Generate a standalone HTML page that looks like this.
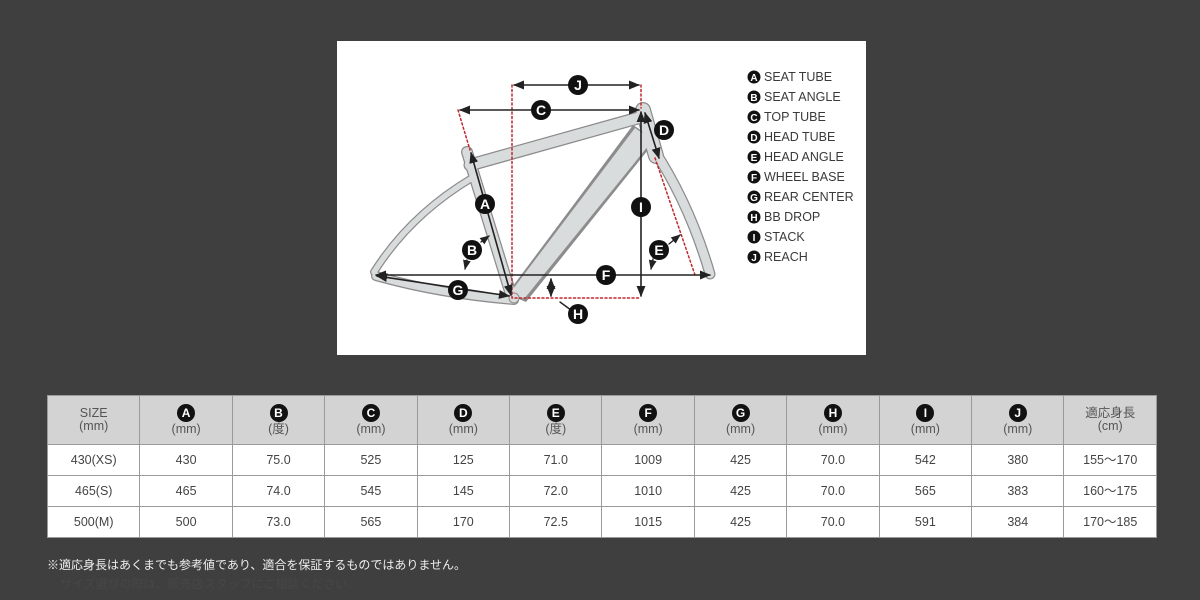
<!DOCTYPE html>
<html><head><meta charset="utf-8"><style>
body{margin:0;width:1200px;height:600px;background:#3f3f3f;position:relative;overflow:hidden;font-family:"Liberation Sans","Noto Sans CJK JP",sans-serif}
#diag{position:absolute;left:337px;top:41px;width:529px;height:314px;background:#fff}
svg{position:absolute;left:0;top:0}
table{position:absolute;left:47px;top:395px;width:1110px;border-collapse:collapse;table-layout:fixed}
td{border:1px solid #9a9a9a;text-align:center;color:#444;font-size:12.5px;height:30px;line-height:14px;padding:0;background:#fff;vertical-align:middle}
tr.h td{background:#d3d3d3;height:48px;line-height:13px;font-size:12.5px;color:#555}
.c{display:inline-block;width:18px;height:18px;border-radius:50%;background:#111;color:#fff;font-weight:bold;font-size:12px;line-height:18px;margin-bottom:1px}
.note{position:absolute;left:47px;top:557px;color:#eee;font-size:12px;line-height:16px}
.note2{position:absolute;left:60px;top:576px;color:#474747;font-size:12px;line-height:16px}
</style></head><body>
<div id="diag"></div>
<svg width="1200" height="600" viewBox="0 0 1200 600">
<defs>
<marker id="a" viewBox="0 0 10 10" refX="9" refY="5" markerWidth="7" markerHeight="7" orient="auto-start-reverse"><path d="M0,1 L10,5 L0,9 z" fill="#222"/></marker>
</defs>
<g fill="none" stroke-linecap="round" stroke-linejoin="round">
<g stroke="#8c8c8c">
<path d="M472,178 Q410,215 374,272" stroke-width="8"/>
<path d="M376,276 Q440,294 514,300" stroke-width="10"/>
<path d="M467,152 L512,298" stroke-width="12"/>
<path d="M470,165 L645,116" stroke-width="13"/>
<path d="M654,150 Q690,205 710,274" stroke-width="11"/>
<path d="M643,110 L656,156" stroke-width="16"/>
</g>
<polygon points="633,125 656,140 526,302 507,294" fill="#8c8c8c"/>
<g stroke="#d9dcdc">
<path d="M472,178 Q410,215 374,272" stroke-width="5.5"/>
<path d="M376,276 Q440,294 514,300" stroke-width="7.5"/>
<path d="M467,152 L512,298" stroke-width="9.5"/>
<path d="M470,165 L645,116" stroke-width="10.5"/>
<path d="M654,150 Q690,205 710,274" stroke-width="8.5"/>
<path d="M643,110 L656,156" stroke-width="13.5"/>
</g>
<polygon points="635,128 653,140 524,299 510,293" fill="#d9dcdc"/>
<circle cx="514" cy="298" r="5" fill="#d9dcdc" stroke="#8c8c8c" stroke-width="1"/>
<g stroke="#c0272d" stroke-width="1.5" stroke-dasharray="2,2.5">
<path d="M512,85 V298 H641"/>
<path d="M641,85 V108"/>
<path d="M458,110 L470,150"/>
<path d="M655,158 L695,275"/>
</g>
<g stroke="#222" stroke-width="1.6" marker-start="url(#a)" marker-end="url(#a)">
<path d="M514,85 H639"/>
<path d="M460,110 H639"/>
<path d="M471,153 L511,295"/>
<path d="M641,112 V296"/>
<path d="M376,275 H710"/>
<path d="M645,113 L659,158"/>
<path d="M377,276 L509,296"/>
<path d="M551,279 V296"/>
</g>
<g stroke="#222" stroke-width="1.4">
<path d="M481,242 L489,236" marker-end="url(#a)"/>
<path d="M467,260 L465,269" marker-end="url(#a)"/>
<path d="M669,244 L680,235" marker-end="url(#a)"/>
<path d="M653,259 L651,269" marker-end="url(#a)"/>
<path d="M560,302 L575,313"/>
</g>
</g>
<g font-family="Liberation Sans" font-weight="bold" font-size="14" text-anchor="middle" fill="#fff">
<circle cx="578" cy="85" r="10" fill="#111"/><text x="578" y="90">J</text>
<circle cx="541" cy="110" r="10" fill="#111"/><text x="541" y="115">C</text>
<circle cx="664" cy="130" r="10" fill="#111"/><text x="664" y="135">D</text>
<circle cx="485" cy="204" r="10" fill="#111"/><text x="485" y="209">A</text>
<circle cx="641" cy="207" r="10" fill="#111"/><text x="641" y="212">I</text>
<circle cx="472" cy="250" r="10" fill="#111"/><text x="472" y="255">B</text>
<circle cx="659" cy="250" r="10" fill="#111"/><text x="659" y="255">E</text>
<circle cx="606" cy="275" r="10" fill="#111"/><text x="606" y="280">F</text>
<circle cx="458" cy="290" r="10" fill="#111"/><text x="458" y="295">G</text>
<circle cx="578" cy="314" r="10" fill="#111"/><text x="578" y="319">H</text>
</g>
<g font-family="Liberation Sans" font-size="12.5" fill="#3a3a3a">
<g font-weight="bold" font-size="10" text-anchor="middle">
<circle cx="754" cy="77" r="6.5" fill="#111"/><text x="754" y="81" fill="#fff">A</text>
<circle cx="754" cy="97" r="6.5" fill="#111"/><text x="754" y="101" fill="#fff">B</text>
<circle cx="754" cy="117" r="6.5" fill="#111"/><text x="754" y="121" fill="#fff">C</text>
<circle cx="754" cy="137" r="6.5" fill="#111"/><text x="754" y="141" fill="#fff">D</text>
<circle cx="754" cy="157" r="6.5" fill="#111"/><text x="754" y="161" fill="#fff">E</text>
<circle cx="754" cy="177" r="6.5" fill="#111"/><text x="754" y="181" fill="#fff">F</text>
<circle cx="754" cy="197" r="6.5" fill="#111"/><text x="754" y="201" fill="#fff">G</text>
<circle cx="754" cy="217" r="6.5" fill="#111"/><text x="754" y="221" fill="#fff">H</text>
<circle cx="754" cy="237" r="6.5" fill="#111"/><text x="754" y="241" fill="#fff">I</text>
<circle cx="754" cy="257" r="6.5" fill="#111"/><text x="754" y="261" fill="#fff">J</text>
</g>
<text x="764" y="81">SEAT TUBE</text>
<text x="764" y="101">SEAT ANGLE</text>
<text x="764" y="121">TOP TUBE</text>
<text x="764" y="141">HEAD TUBE</text>
<text x="764" y="161">HEAD ANGLE</text>
<text x="764" y="181">WHEEL BASE</text>
<text x="764" y="201">REAR CENTER</text>
<text x="764" y="221">BB DROP</text>
<text x="764" y="241">STACK</text>
<text x="764" y="261">REACH</text>
</g>
</svg>
<table>
<tr class="h"><td>SIZE<br>(mm)</td><td><span class="c">A</span><br>(mm)</td><td><span class="c">B</span><br>(度)</td><td><span class="c">C</span><br>(mm)</td><td><span class="c">D</span><br>(mm)</td><td><span class="c">E</span><br>(度)</td><td><span class="c">F</span><br>(mm)</td><td><span class="c">G</span><br>(mm)</td><td><span class="c">H</span><br>(mm)</td><td><span class="c">I</span><br>(mm)</td><td><span class="c">J</span><br>(mm)</td><td>適応身長<br>(cm)</td></tr>
<tr><td>430(XS)</td><td>430</td><td>75.0</td><td>525</td><td>125</td><td>71.0</td><td>1009</td><td>425</td><td>70.0</td><td>542</td><td>380</td><td>155〜170</td></tr>
<tr><td>465(S)</td><td>465</td><td>74.0</td><td>545</td><td>145</td><td>72.0</td><td>1010</td><td>425</td><td>70.0</td><td>565</td><td>383</td><td>160〜175</td></tr>
<tr><td>500(M)</td><td>500</td><td>73.0</td><td>565</td><td>170</td><td>72.5</td><td>1015</td><td>425</td><td>70.0</td><td>591</td><td>384</td><td>170〜185</td></tr>
</table>
<div class="note">※適応身長はあくまでも参考値であり、適合を保証するものではありません。</div>
<div class="note2">サイズ選びの際は、販売店スタッフにご相談ください。</div>
</body></html>
